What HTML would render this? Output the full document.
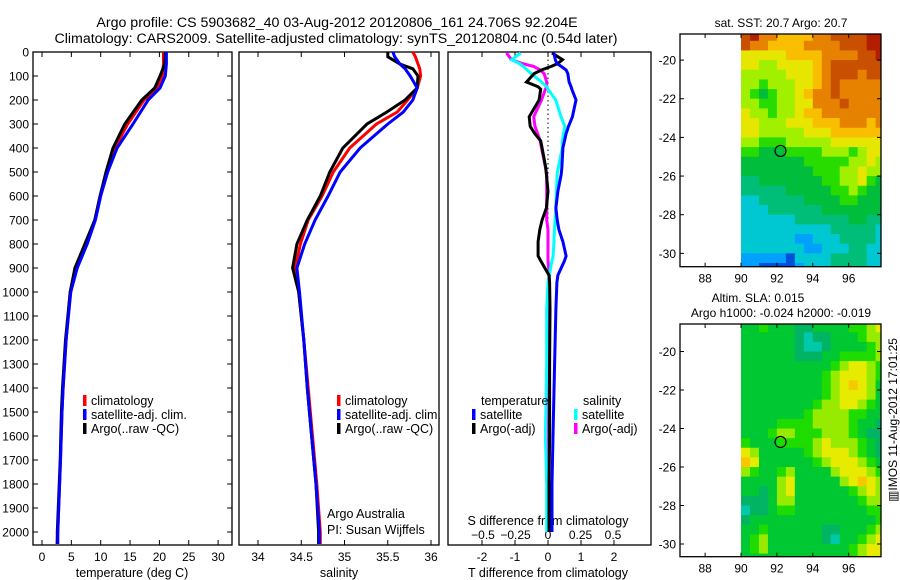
<!DOCTYPE html>
<html><head><meta charset="utf-8"><style>
html,body{margin:0;padding:0;background:#fff}
svg{display:block;font-family:"Liberation Sans",sans-serif}
</style></head><body>
<svg id="fig" width="900" height="580" viewBox="0 0 900 580">
<text x="337" y="27" text-anchor="middle" font-size="14.2">Argo profile: CS 5903682_40 03-Aug-2012 20120806_161 24.706S 92.204E</text>
<text x="336" y="43" text-anchor="middle" font-size="14.2">Climatology: CARS2009. Satellite-adjusted climatology: synTS_20120804.nc (0.54d later)</text>
<g id="g"></g>
</svg>
<script>
// ---- profile data ----
const depthT = [0,50,100,150,200,300,400,500,600,700,800,900,1000,1200,1400,1500,1700,2000,2050];
const tempClim = [20.7,20.7,20.5,19.6,17.4,14.6,12.4,11.0,9.9,9.0,7.4,5.7,4.8,4.1,3.6,3.4,3.15,2.7,2.55];
const tempSat  = [21.2,21.2,21.0,20.1,18.1,15.5,12.8,11.2,10.0,9.1,7.7,6.0,4.9,4.1,3.6,3.4,3.15,2.7,2.7];
const tempArgo = [21.0,20.9,20.1,19.2,17.0,14.1,12.1,10.9,9.9,9.0,7.3,5.6,4.8,4.0,3.5,3.3,3.1,2.6,2.6];
const depthS = [0,20,50,70,100,150,200,250,300,400,500,600,700,800,900,1000,1200,1400,1600,1800,2000,2050];
const salClim = [35.79,35.82,35.85,35.87,35.88,35.84,35.73,35.61,35.37,35.06,34.87,34.74,34.58,34.49,34.43,34.47,34.53,34.58,34.63,34.68,34.72,34.72];
const salSat  = [35.56,35.58,35.64,35.70,35.76,35.84,35.79,35.68,35.50,35.18,34.95,34.81,34.66,34.54,34.45,34.48,34.53,34.57,34.62,34.67,34.71,34.71];
const salArgo = [35.50,35.50,35.64,35.79,35.85,35.84,35.70,35.49,35.26,34.98,34.83,34.72,34.57,34.45,34.40,34.47,34.53,34.57,34.62,34.67,34.70,34.70];
const depthD = [4,32,48,60,75,90,125,145,155,200,270,310,340,370,400,480,510,580,650,700,740,790,850,870,930,960,1070,1300,1600,1800,2000];
const dTsat  = [0.18,0.22,0.27,0.4,0.55,0.6,0.64,0.7,0.72,0.85,0.74,0.62,0.55,0.5,0.45,0.42,0.4,0.3,0.24,0.28,0.33,0.45,0.55,0.5,0.3,0.27,0.24,0.2,0.15,0.12,0.12];
const dTargo = [0.12,0.44,0.3,0.1,-0.2,-0.42,-0.65,-0.3,-0.22,-0.27,-0.57,-0.54,-0.4,-0.22,-0.18,-0.07,-0.05,0,-0.05,-0.18,-0.25,-0.3,-0.3,-0.22,0.03,0.05,0.06,0.05,0.05,0.03,0.03];
const dSsat  = [-0.21,-0.28,-0.22,-0.19,-0.16,-0.13,-0.05,-0.01,0,0.06,0.1,0.13,0.12,0.11,0.11,0.08,0.07,0.065,0.06,0.055,0.05,0.045,0.04,0.03,0.01,0,-0.01,-0.01,-0.02,-0.01,-0.01];
const dSargo = [-0.32,-0.28,-0.2,-0.11,-0.06,-0.03,-0.01,-0.01,-0.02,-0.05,-0.11,-0.1,-0.08,-0.06,-0.05,-0.02,-0.01,-0.01,-0.01,-0.01,0,0,0,0,0.01,0.01,0.01,0.005,0.005,0.005,0.005];
const tempTicks = [0,5,10,15,20,25,30];
const salTicks = [34,34.5,35,35.5,36];
const dTTicks = [-2,-1,0,1,2];
const dSTicks = [-0.5,-0.25,0,0.25,0.5];
const depthTicks = [0,100,200,300,400,500,600,700,800,900,1000,1100,1200,1300,1400,1500,1600,1700,1800,1900,2000];
// ---- map data (0.5 deg cells, lon 90..98, lat -18.5..-31) ----
const sstRows = ["ab99888899aaaabb","a9988889999aaabb","7777788889999aab","7766777789aaaaaa","6666677789aaa9aa","6656667789a99999","6545667899a99999","66556677999a9999","7665667889999999","7766677788899989","7766666777888888","6655566666777777","5544455556665677","4444444555556676","4444444455566766","3344444445566754","3333344444556544","2233333444455444","2223333334444444","2222223333334433","2222222222333332","2222221122233332","2222222112223322","1111102222333322","1100001222333322"];
const slaRows = ["2232221122223345","2222221011222344","2222221001222234","2222221112233334","2222222222345543","2222222223455543","2222222223456542","2222222223455542","2222222234455432","2222222344443322","2222333344443221","2223443334443211","3222333345444321","5422222345554321","6522222234555432","4322342222455543","2222452222245654","2212452222223454","1112442222222344","0112332222222233","1222222222222223","2232222221122234","2342222221022345","2342222222223455","2222222222223455"];
const lonTicks = [88,90,92,94,96];
const latTicks = [-20,-22,-24,-26,-28,-30];
const argoLon = 92.2, argoLat = -24.7;

const NS="http://www.w3.org/2000/svg";
const G=document.getElementById('g');
function mk(tag,attrs,parent){const e=document.createElementNS(NS,tag);for(const k in attrs)e.setAttribute(k,attrs[k]);(parent||G).appendChild(e);return e;}
function txt(x,y,s,size,anchor,parent){const t=mk('text',{x:x,y:y,'font-size':size||12,'text-anchor':anchor||'middle'},parent);t.textContent=s;return t;}

const TOP=52,BOT=545;
const yD=d=>TOP+d*0.24;
const xT=v=>42+v*5.87;
const xS=v=>258+(v-34)*86.5;
const xDT=v=>548+v*33;
const xDS=v=>548+v*130;

function frame(x1,x2,name){const r=mk('rect',{x:x1,y:TOP,width:x2-x1,height:BOT-TOP,fill:'none',stroke:'#000','stroke-width':1.3});

}
function line(xs,ds,fx,col,name,w){const pts=xs.map((v,i)=>fx(v).toFixed(1)+','+yD(ds[i]).toFixed(1)).join(' ');
const p=mk('polyline',{points:pts,fill:'none',stroke:col,'stroke-width':w||3,'stroke-linejoin':'miter'});

}

frame(33,232,'temperature-panel');
frame(239,439,'salinity-panel');
frame(448,651,'difference-panel');

depthTicks.forEach(d=>{const y=yD(d);
 mk('line',{x1:33,y1:y,x2:38,y2:y,stroke:'#000'});
 mk('line',{x1:227,y1:y,x2:232,y2:y,stroke:'#000'});
 const t=txt(29,y+4.5,String(d),12,'end');
 
 });
function xticks(ticks,fx,y,labels,name){ticks.forEach((v,i)=>{const x=fx(v);
 mk('line',{x1:x,y1:BOT,x2:x,y2:BOT-5,stroke:'#000'});
 mk('line',{x1:x,y1:TOP,x2:x,y2:TOP+5,stroke:'#000'});
 const t=txt(x,y,labels?labels[i]:String(v),12);
 
 });}
xticks(tempTicks,xT,561,null,'temperature-tick-label');
xticks(salTicks,xS,561,null,'salinity-tick-label');
xticks(dTTicks,xDT,561,null,'t-diff-tick-label');
dSTicks.forEach(v=>{const t=txt(xDS(v),539,String(v).replace('-','\u2212'),12);
 
 });

[[132,'temperature (deg C)','temperature-axis-title'],[339,'salinity','salinity-axis-title'],[548,'T difference from climatology','t-diff-axis-title']].forEach(a=>{
 const t=txt(a[0],577,a[1],12.5);});
{const t=txt(548,525,'S difference from climatology',12.5);}

mk('line',{x1:548,y1:TOP+3,x2:548,y2:300,stroke:'#000','stroke-width':1,'stroke-dasharray':'1.5,3'});

line(tempClim,depthT,xT,'#ff0000','temp-climatology-line');
line(tempArgo,depthT,xT,'#000000','temp-argo-line');
line(tempSat,depthT,xT,'#0000ff','temp-satellite-line');
line(salClim,depthS,xS,'#ff0000','sal-climatology-line');
line(salArgo,depthS,xS,'#000000','sal-argo-line');
line(salSat,depthS,xS,'#0000ff','sal-satellite-line');
line(dSargo,depthD,xDS,'#ff00ff','s-diff-argo-line');
line(dSsat,depthD,xDS,'#00ffff','s-diff-satellite-line');
line(dTargo,depthD,xDT,'#000000','t-diff-argo-line');
line(dTsat,depthD,xDT,'#0000ff','t-diff-satellite-line');

function legend(x,y,col,label,name){mk('rect',{x:x,y:y-10,width:3.5,height:11,fill:col});
 const t=txt(x+8,y,label,12.5,'start');}
legend(83,405,'#ff0000','climatology','legend-climatology');
legend(83,419,'#0000ff','satellite-adj. clim.','legend-satellite');
legend(83,433,'#000000','Argo(..raw -QC)','legend-argo');
legend(337,405,'#ff0000','climatology','legend2-climatology');
legend(337,419,'#0000ff','satellite-adj. clim.','legend2-satellite');
legend(337,433,'#000000','Argo(..raw -QC)','legend2-argo');
{let t=txt(481,405,'temperature',12.5,'start');
 t=txt(583,405,'salinity',12.5,'start');}
legend(472,419,'#0000ff','satellite','legend-t-satellite');
legend(472,433,'#000000','Argo(-adj)','legend-t-argo');
legend(574,419,'#00ffff','satellite','legend-s-satellite');
legend(574,433,'#ff00ff','Argo(-adj)','legend-s-argo');
{let t=txt(327,518,'Argo Australia',12.5,'start');
 t=txt(327,534,'PI: Susan Wijffels',12.5,'start');}

const sstCols=['#0050dc','#00a0ff','#00c8d2','#00be78','#00be3c','#28dc00','#a0f000','#e6e600','#fabe00','#e68200','#c85000','#b41e00'];
const slaCols=['#00c8aa','#00b464','#00c832','#1edc00','#96eb00','#e6eb00','#f5c800'];
function map(top,bot,latTop,latBot,rows,cols,name){
 const L=680,R=881,lonL=86.6,lonR=97.8;
 const fx=v=>L+(v-lonL)*(R-L)/(lonR-lonL);
 const fy=v=>top+(latTop-v)*(bot-top)/(latTop-latBot);
 const cg=mk('g',{});
 const clip=mk('clipPath',{id:name+'clip'});mk('rect',{x:L,y:top,width:R-L,height:bot-top},clip);
 cg.setAttribute('clip-path','url(#'+name+'clip)');
 rows.forEach((row,ri)=>{const la=-18.5-ri*0.5;
  for(let ci=0;ci<row.length;ci++){const lo=90+ci*0.5;const v=parseInt(row[ci],16);
   const x1=fx(lo),x2=fx(lo+0.5),y1=fy(la),y2=fy(la-0.5);
   mk('rect',{x:x1.toFixed(2),y:y1.toFixed(2),width:(x2-x1+0.6).toFixed(2),height:(y2-y1+0.6).toFixed(2),fill:cols[v]},cg);}});
 const fr=mk('rect',{x:L,y:top,width:R-L,height:bot-top,fill:'none',stroke:'#000','stroke-width':1.3});
 
 lonTicks.forEach(v=>{const x=fx(v);mk('line',{x1:x,y1:bot,x2:x,y2:bot-4,stroke:'#000'});mk('line',{x1:x,y1:top,x2:x,y2:top+4,stroke:'#000'});
  const t=txt(x,bot+16,String(v),12);});
 latTicks.forEach(v=>{const y=fy(v);mk('line',{x1:L,y1:y,x2:L+4,y2:y,stroke:'#000'});mk('line',{x1:R,y1:y,x2:R-4,y2:y,stroke:'#000'});
  const t=txt(L-4,y+4.5,String(v),12,'end');});
 const c=mk('circle',{cx:fx(argoLon),cy:fy(argoLat),r:5.5,fill:'none',stroke:'#000','stroke-width':1.2});
 
}
map(34,266.7,-18.65,-30.69,sstRows,sstCols,'sst-map');
map(324,556.7,-18.57,-30.66,slaRows,slaCols,'sla-map');
{let t=txt(781,27,'sat. SST: 20.7 Argo: 20.7',12);
 t=txt(758,302,'Altim. SLA: 0.015',12);
 t=txt(781,317,'Argo h1000: -0.024 h2000: -0.019',12);
 t=txt(0,0,'\u25A5IMOS 11-Aug-2012 17:01:25',12);t.setAttribute('transform','translate(897,420) rotate(-90)');
 }
</script>
</body></html>
